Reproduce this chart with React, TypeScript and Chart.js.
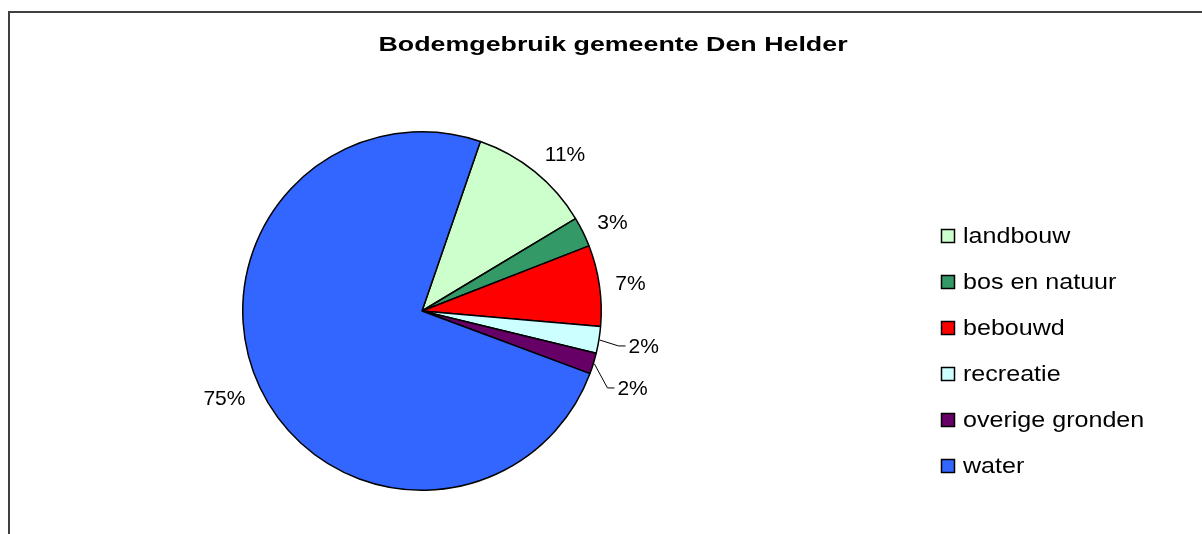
import { useEffect, useRef } from "react";
import { Chart, registerables } from "chart.js";

Chart.register(...registerables);

const TITLE = "Bodemgebruik gemeente Den Helder";
const categories = ["landbouw", "bos en natuur", "bebouwd", "recreatie", "overige gronden", "water"];
const values = [11.1, 2.7, 7.3, 2.4, 1.9, 74.6];
const colors = ["#CCFFCC", "#339966", "#FF0000", "#CCFFFF", "#660066", "#3366FF"];

const FONT = '"Liberation Sans", Arial, sans-serif';

function stretchText(ctx: CanvasRenderingContext2D, text: string, x: number, y: number, sx: number, align: CanvasTextAlign) {
  ctx.save();
  ctx.translate(x, y);
  ctx.scale(sx, 1);
  ctx.textAlign = align;
  ctx.textBaseline = "alphabetic";
  ctx.fillText(text, 0, 0);
  ctx.restore();
}

const overlay = {
  id: "overlay",
  afterDraw(chart: any) {
    const ctx: CanvasRenderingContext2D = chart.ctx;
    ctx.save();
    // outer frame
    ctx.strokeStyle = "#404040";
    ctx.lineWidth = 2;
    ctx.strokeRect(9, 12, 1400, 700);

    // title
    ctx.fillStyle = "#000";
    ctx.font = `bold 20px ${FONT}`;
    stretchText(ctx, TITLE, 613, 51, 1.34, "center");

    // legend
    const labels: string[] = chart.data.labels;
    const bg: string[] = chart.data.datasets[0].backgroundColor;
    labels.forEach((lab, i) => {
      const base = 243 + i * 46;
      ctx.fillStyle = bg[i];
      ctx.fillRect(941, base - 14, 13, 13);
      ctx.strokeStyle = "#000";
      ctx.lineWidth = 1.5;
      ctx.strokeRect(941.5, base - 13.5, 13, 13);
      ctx.fillStyle = "#000";
      ctx.font = `22px ${FONT}`;
      stretchText(ctx, lab, 963, base, 1.14, "left");
    });

    // data labels
    const meta = chart.getDatasetMeta(0);
    const data: number[] = chart.data.datasets[0].data;
    const total = data.reduce((a, b) => a + b, 0);
    ctx.font = `21px ${FONT}`;
    let prevY = -Infinity;
    meta.data.forEach((arc: any, i: number) => {
      const { startAngle, endAngle, x, y, outerRadius } = arc.getProps(
        ["startAngle", "endAngle", "x", "y", "outerRadius"],
        true
      );
      const mid = (startAngle + endAngle) / 2;
      const c = Math.cos(mid);
      const s = Math.sin(mid);
      const pct = (data[i] / total) * 100;
      const text = Math.round(pct) + "%";
      const w = ctx.measureText(text).width;
      const h = 15;
      const leader = pct < 2.5;
      const d = outerRadius + (leader ? 30 : 16);
      let ax = x + d * c;
      let ay = y + d * s;
      let cy = ay + s * h / 2;
      if (leader && c > 0 && cy < prevY + 42) {
        cy = prevY + 42;
        ay = cy - s * h / 2;
        const dy = ay - y;
        ax = x + Math.sqrt(Math.max(d * d - dy * dy, 0));
      }
      const cx = ax + Math.sign(c) * w / 2;
      if (c > 0) prevY = cy;
      ctx.fillStyle = "#000";
      ctx.textAlign = "center";
      ctx.textBaseline = "alphabetic";
      ctx.fillText(text, cx, cy + 7.5);
      if (leader) {
        const left = cx - w / 2;
        ctx.strokeStyle = "#000";
        ctx.lineWidth = 1;
        ctx.beginPath();
        ctx.moveTo(x + (outerRadius + 1) * c, y + (outerRadius + 1) * s);
        ctx.lineTo(left - 10, cy);
        ctx.lineTo(left - 3, cy);
        ctx.stroke();
      }
    });
    ctx.restore();
  },
};

export default function App() {
  const ref = useRef<HTMLCanvasElement>(null);
  useEffect(() => {
    if (!ref.current) return;
    const chart = new Chart(ref.current, {
      type: "pie",
      data: {
        labels: categories,
        datasets: [
          {
            data: values,
            backgroundColor: colors,
            borderColor: "#000",
            borderWidth: 1.5,
          },
        ],
      },
      options: {
        animation: false,
        responsive: false,
        events: [],
        rotation: 19,
        layout: { padding: { left: 242, right: 600, top: 131, bottom: 43 } },
        plugins: {
          legend: { display: false },
          title: { display: false },
          tooltip: { enabled: false },
        },
      },
      plugins: [overlay],
    });
    return () => chart.destroy();
  }, []);
  return (
    <div style={{ position: "absolute", left: 0, top: 0, width: 1202, height: 534, background: "#fff" }}>
      <canvas ref={ref} width={1202} height={534} style={{ display: "block" }} />
    </div>
  );
}
